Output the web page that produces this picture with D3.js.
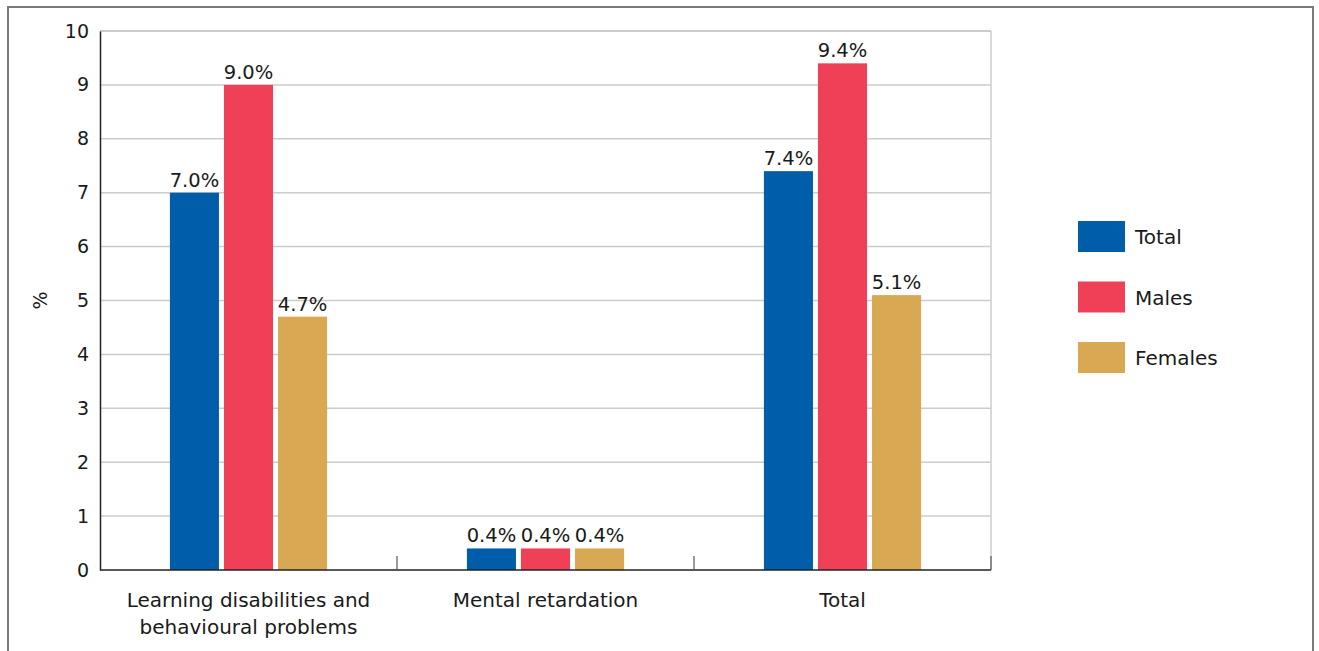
<!DOCTYPE html>
<html>
<head>
<meta charset="utf-8">
<script src="https://cdn.jsdelivr.net/npm/d3@7"></script>
<style>
  html, body { margin: 0; padding: 0; background: #fff; }
  svg { display: block; font-family: "DejaVu Sans", sans-serif; }
</style>
</head>
<body>
<svg id="chart" width="1319" height="651"></svg>
<script>
// Prevalence by category and sex (%)
const categories = ["Learning disabilities and\nbehavioural problems", "Mental retardation", "Total"];
const seriesNames = ["Total", "Males", "Females"];
const totalValues = [7.0, 0.4, 7.4];
const maleValues = [9.0, 0.4, 9.4];
const femaleValues = [4.7, 0.4, 5.1];
const yTicks = [0, 1, 2, 3, 4, 5, 6, 7, 8, 9, 10];
const colors = ["#005DAA", "#F04058", "#D9A853"];

const seriesValues = [totalValues, maleValues, femaleValues];
const textColor = "#1a1a1a";

const svg = d3.select("#chart");

// outer frame (open at the bottom)
svg.append("path")
  .attr("d", "M8,651 V7 H1313 V651")
  .attr("fill", "none")
  .attr("stroke", "#7a7a7a")
  .attr("stroke-width", 2);

const plot = { left: 100, right: 991, top: 31, bottom: 570 };

const x0 = d3.scaleBand()
  .domain(categories)
  .range([plot.left, plot.right])
  .paddingInner(0)
  .paddingOuter(0);

const x1 = d3.scaleBand()
  .domain(seriesNames)
  .range([0, x0.bandwidth()])
  .paddingInner(0.0926)
  .paddingOuter(1.293);

const y = d3.scaleLinear().domain([0, 10]).range([plot.bottom, plot.top]);

// horizontal gridlines
svg.append("g")
  .selectAll("line")
  .data(yTicks.filter(d => d > 0))
  .join("line")
  .attr("x1", plot.left)
  .attr("x2", plot.right)
  .attr("y1", d => y(d))
  .attr("y2", d => y(d))
  .attr("stroke", "#cccccc")
  .attr("stroke-width", d => d === 10 ? 2 : 1.5);

// right edge of the plot area
svg.append("line")
  .attr("x1", plot.right)
  .attr("x2", plot.right)
  .attr("y1", plot.top)
  .attr("y2", plot.bottom)
  .attr("stroke", "#cccccc")
  .attr("stroke-width", 1.5);

// y axis
const yAxis = svg.append("g")
  .attr("transform", `translate(${plot.left},0)`)
  .call(d3.axisLeft(y).tickValues(yTicks).tickSize(0).tickPadding(11));
yAxis.select(".domain").attr("stroke", "#222").attr("stroke-width", 1.5);
yAxis.selectAll("text")
  .attr("font-size", 19)
  .attr("fill", textColor)
  .attr("font-family", "DejaVu Sans, sans-serif");

// y axis title
svg.append("text")
  .attr("transform", `translate(47,${(plot.top + plot.bottom) / 2}) rotate(-90)`)
  .attr("text-anchor", "middle")
  .attr("font-size", 19)
  .attr("fill", textColor)
  .text("%");

// bars with value labels
const groups = svg.append("g")
  .selectAll("g")
  .data(categories)
  .join("g")
  .attr("transform", d => `translate(${x0(d)},0)`);

groups.each(function (cat, ci) {
  const g = d3.select(this);
  seriesNames.forEach((s, si) => {
    const v = seriesValues[si][ci];
    g.append("rect")
      .attr("x", x1(s))
      .attr("y", y(v))
      .attr("width", x1.bandwidth())
      .attr("height", y(0) - y(v))
      .attr("fill", colors[si]);
    g.append("text")
      .attr("x", x1(s) + x1.bandwidth() / 2)
      .attr("y", y(v) - 6)
      .attr("text-anchor", "middle")
      .attr("font-size", 19.5)
      .attr("fill", textColor)
      .text(v.toFixed(1) + "%");
  });
});

// x axis baseline with category separators
svg.append("line")
  .attr("x1", plot.left)
  .attr("x2", plot.right)
  .attr("y1", plot.bottom)
  .attr("y2", plot.bottom)
  .attr("stroke", "#222")
  .attr("stroke-width", 1.5);

const boundaries = categories.map(c => x0(c) + x0.bandwidth());
svg.append("g")
  .selectAll("line")
  .data(boundaries)
  .join("line")
  .attr("x1", d => d)
  .attr("x2", d => d)
  .attr("y1", plot.bottom)
  .attr("y2", plot.bottom - 14)
  .attr("stroke", "#555")
  .attr("stroke-width", 1.2);

// category labels
svg.append("g")
  .selectAll("text")
  .data(categories)
  .join("text")
  .attr("x", d => x0(d) + x0.bandwidth() / 2)
  .attr("y", 607)
  .attr("text-anchor", "middle")
  .attr("font-size", 20)
  .attr("fill", textColor)
  .each(function (d) {
    const lines = d.split("\n");
    d3.select(this).selectAll("tspan")
      .data(lines)
      .join("tspan")
      .attr("x", x0(d) + x0.bandwidth() / 2)
      .attr("dy", (l, i) => i === 0 ? 0 : 27)
      .text(l => l);
  });

// legend
const legend = svg.append("g")
  .selectAll("g")
  .data(seriesNames)
  .join("g")
  .attr("transform", (d, i) => `translate(1078,${221 + i * 60.5})`);
legend.append("rect")
  .attr("width", 47)
  .attr("height", 31)
  .attr("fill", (d, i) => colors[i]);
legend.append("text")
  .attr("x", 57)
  .attr("y", 23)
  .attr("font-size", 20)
  .attr("fill", textColor)
  .text(d => d);
</script>
</body>
</html>
